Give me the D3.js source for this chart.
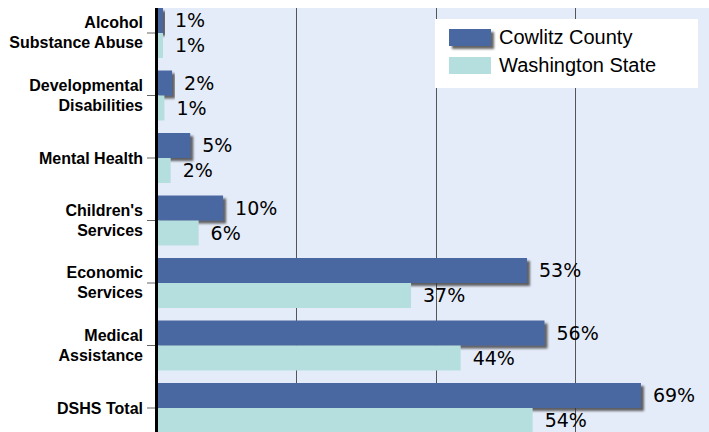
<!DOCTYPE html>
<html>
<head>
<meta charset="utf-8">
<script src="https://cdn.jsdelivr.net/npm/d3@7"></script>
<style>
  body { margin: 0; background: #fff; }
  svg { display: block; }
  .cat { font-family: "Liberation Sans", Arial, sans-serif; font-weight: bold; font-size: 16px; fill: #000; }
  .val { font-family: "DejaVu Sans", Tahoma, sans-serif; font-size: 19px; fill: #000; }
  .leg { font-family: "Liberation Sans", Arial, sans-serif; font-size: 20px; fill: #000; }
</style>
</head>
<body>
<script>
// categories, top to bottom
var categories = [["Alcohol", "Substance Abuse"], ["Developmental", "Disabilities"], ["Mental Health"],
  ["Children's", "Services"], ["Economic", "Services"], ["Medical", "Assistance"], ["DSHS Total"]];
var seriesNames = ["Cowlitz County", "Washington State"];
var cowlitz = [1, 2.3, 4.9, 9.6, 53.1, 55.6, 69.4];
var washington = [1, 1.2, 2.1, 6.1, 36.5, 43.6, 53.9];
var gridTicks = [20, 40, 60];

var colors = ["#4a67a1", "#b5dedf"];
var W = 709, H = 432;

var svg = d3.select("body").append("svg").attr("width", W).attr("height", H);

var defs = svg.append("defs");
var f = defs.append("filter").attr("id", "shadow").attr("x", "-5%").attr("y", "-20%")
  .attr("width", "120%").attr("height", "160%");
f.append("feDropShadow").attr("dx", 3).attr("dy", 3).attr("stdDeviation", 0.8)
  .attr("flood-color", "#333").attr("flood-opacity", 0.75);

var x = d3.scaleLinear().domain([0, 80]).range([156, 715]);
var idx = d3.range(categories.length);
var y = d3.scaleBand().domain(idx).range([1.75, 439.25]).paddingInner(0.2).paddingOuter(0.1);
var bh = y.bandwidth() / 2;

// plot background
svg.append("rect").attr("x", 156).attr("y", 8).attr("width", W - 156).attr("height", H)
  .attr("fill", "#e5ecf9");

// gridlines
svg.selectAll("line.grid").data(gridTicks).enter().append("line")
  .attr("class", "grid")
  .attr("x1", function(d){ return Math.round(x(d)) + 0.5; })
  .attr("x2", function(d){ return Math.round(x(d)) + 0.5; })
  .attr("y1", 8).attr("y2", H)
  .attr("stroke", "#555").attr("stroke-width", 1);

// Cowlitz bars (with shadow)
svg.selectAll("rect.cow").data(cowlitz).enter().append("rect")
  .attr("class", "cow")
  .attr("x", x(0))
  .attr("y", function(d, i){ return y(i); })
  .attr("width", function(d){ return x(d) - x(0); })
  .attr("height", bh)
  .attr("fill", colors[0])
  .attr("filter", "url(#shadow)");

// Washington bars
svg.selectAll("rect.wa").data(washington).enter().append("rect")
  .attr("class", "wa")
  .attr("x", x(0))
  .attr("y", function(d, i){ return y(i) + bh; })
  .attr("width", function(d){ return x(d) - x(0); })
  .attr("height", bh)
  .attr("fill", colors[1]);

// value labels
var fmt = function(d){ return Math.round(d) + "%"; };
svg.selectAll("text.vc").data(cowlitz).enter().append("text")
  .attr("class", "val")
  .attr("x", function(d){ return x(d) + 12; })
  .attr("y", function(d, i){ return y(i) + bh / 2; })
  .attr("dy", "0.36em")
  .text(fmt);
svg.selectAll("text.vw").data(washington).enter().append("text")
  .attr("class", "val")
  .attr("x", function(d){ return x(d) + 12; })
  .attr("y", function(d, i){ return y(i) + bh * 1.5; })
  .attr("dy", "0.36em")
  .text(fmt);

// category axis
var yAxis = d3.axisLeft(y).tickSize(9).tickSizeOuter(0).tickPadding(4).tickFormat("");
var ga = svg.append("g").attr("transform", "translate(156,0)").call(yAxis);
ga.select(".domain").remove();
ga.selectAll(".tick line").attr("stroke", "#666");
ga.selectAll(".tick").each(function(d){
  var lines = categories[d];
  var t = d3.select(this).append("text").attr("class", "cat")
    .attr("x", -13).attr("text-anchor", "end");
  if (lines.length == 1) {
    t.attr("y", 0).attr("dy", "0.35em").text(lines[0]);
  } else {
    t.append("tspan").attr("x", -13).attr("y", -5).text(lines[0]);
    t.append("tspan").attr("x", -13).attr("y", 15).text(lines[1]);
  }
});
svg.append("line").attr("x1", 156.5).attr("x2", 156.5).attr("y1", 8).attr("y2", H)
  .attr("stroke", "#000").attr("stroke-width", 3);

// legend
var lg = svg.append("g");
lg.append("rect").attr("x", 435).attr("y", 19).attr("width", 263).attr("height", 69).attr("fill", "#fff");
var li = lg.selectAll("g.li").data(seriesNames).enter().append("g")
  .attr("transform", function(d, i){ return "translate(449," + (29 + i * 28) + ")"; });
li.append("rect").attr("width", 42).attr("height", 17)
  .attr("fill", function(d, i){ return colors[i]; })
  .attr("filter", function(d, i){ return i == 0 ? "url(#shadow)" : null; });
li.append("text").attr("class", "leg").attr("x", 50).attr("y", 15).text(function(d){ return d; });
</script>
</body>
</html>
